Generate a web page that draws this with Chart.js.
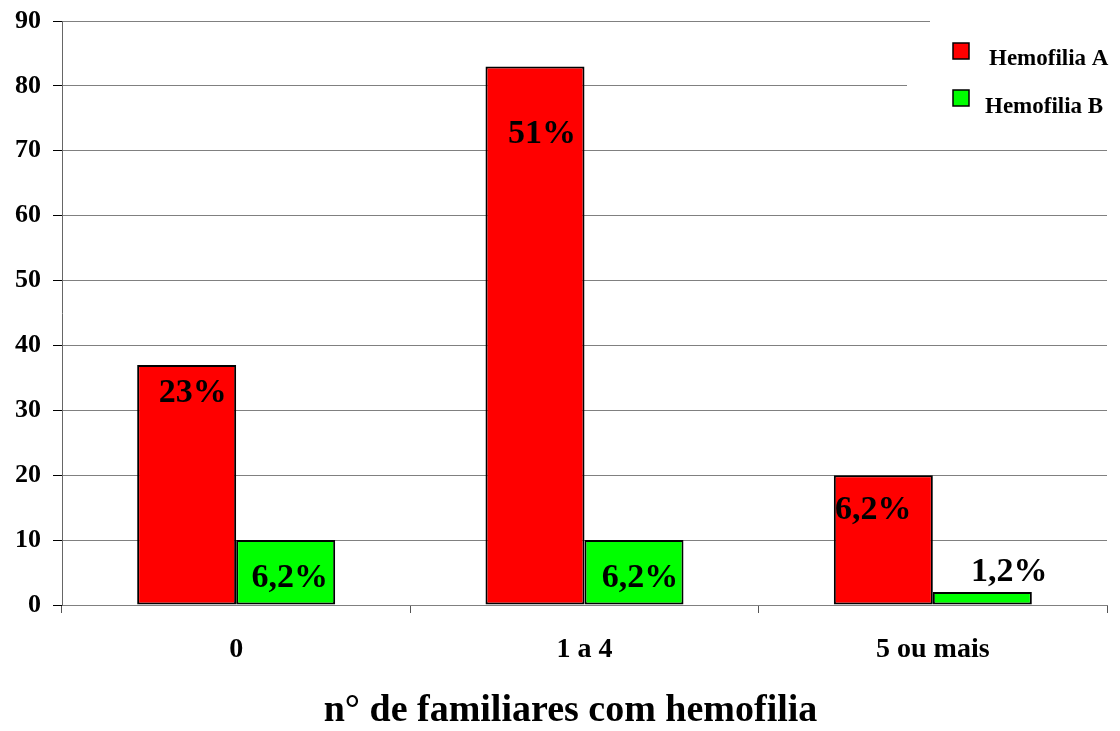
<!DOCTYPE html>
<html>
<head>
<meta charset="utf-8">
<script src="https://cdn.jsdelivr.net/npm/chart.js@4/dist/chart.umd.min.js"></script>
<style>
  html, body { margin: 0; padding: 0; background: #fff; }
  #wrap { position: relative; width: 1120px; height: 731px; }
</style>
</head>
<body>
<div id="wrap"><canvas id="c"></canvas></div>
<script>
// Families with haemophilia, grouped by number of affected relatives
const categories = ['0', '1 a 4', '5 ou mais'];
const hemofiliaA = [37, 83, 20];
const hemofiliaB = [10, 10, 2];
const labelsA = ['23%', '51%', '6,2%'];
const labelsB = ['6,2%', '6,2%', '1,2%'];
const yTicks = [0, 10, 20, 30, 40, 50, 60, 70, 80, 90];
const xTitle = 'n° de familiares com hemofilia';

const SERIF = '"Liberation Serif", "Times New Roman", serif';

// Percentage captions written onto the bars
const barCaptions = {
  id: 'barCaptions',
  afterDatasetsDraw(chart, args, opts) {
    const ctx = chart.ctx;
    ctx.save();
    ctx.font = 'bold ' + opts.size + 'px ' + SERIF;
    ctx.fillStyle = '#000';
    ctx.textAlign = 'center';
    ctx.textBaseline = 'middle';
    chart.data.datasets.forEach((ds, di) => {
      const meta = chart.getDatasetMeta(di);
      meta.data.forEach((bar, i) => {
        const [dx, dy] = opts.offsets[di][i];
        ctx.fillText(ds.captions[i], bar.x + dx, bar.y + dy);
      });
    });
    ctx.restore();
  }
};

// Legend box sitting over the top-right corner of the plot
const cornerLegend = {
  id: 'cornerLegend',
  beforeDatasetsDraw(chart, args, opts) {
    const ctx = chart.ctx;
    const a = chart.chartArea;
    const W = chart.width;
    ctx.save();
    ctx.fillStyle = '#fff';
    ctx.fillRect(a.right - 177, a.top - 10, W - (a.right - 177), 50);
    ctx.fillRect(a.right - 200, a.top + 40, W - (a.right - 200), 80);
    ctx.font = 'bold ' + opts.size + 'px ' + SERIF;
    ctx.textAlign = 'left';
    ctx.textBaseline = 'middle';
    chart.data.datasets.forEach((ds, i) => {
      const it = opts.items[i];
      ctx.fillStyle = ds.backgroundColor;
      ctx.strokeStyle = '#000';
      ctx.lineWidth = 1.5;
      ctx.fillRect(a.right + it.bx, a.top + it.by, 16, 16);
      ctx.strokeRect(a.right + it.bx, a.top + it.by, 16, 16);
      ctx.fillStyle = '#000';
      ctx.fillText(ds.label, a.right + it.tx, a.top + it.ty);
    });
    ctx.restore();
  }
};

// Axis caption under the category labels
const axisCaption = {
  id: 'axisCaption',
  afterDraw(chart, args, opts) {
    const ctx = chart.ctx;
    const a = chart.chartArea;
    ctx.save();
    ctx.font = 'bold ' + opts.size + 'px ' + SERIF;
    ctx.fillStyle = '#000';
    ctx.textAlign = 'center';
    ctx.textBaseline = 'alphabetic';
    ctx.fillText(opts.text, (a.left + a.right) / 2 + opts.dx, a.bottom + opts.dy);
    ctx.restore();
  }
};

new Chart(document.getElementById('c'), {
  type: 'bar',
  data: {
    labels: categories,
    datasets: [
      {
        label: 'Hemofilia A',
        data: hemofiliaA,
        captions: labelsA,
        backgroundColor: '#ff0000',
        borderColor: '#000',
        borderWidth: 2,
        borderSkipped: false
      },
      {
        label: 'Hemofilia B',
        data: hemofiliaB,
        captions: labelsB,
        backgroundColor: '#00ff00',
        borderColor: '#000',
        borderWidth: 2,
        borderSkipped: false
      }
    ]
  },
  options: {
    responsive: true,
    maintainAspectRatio: false,
    animation: false,
    devicePixelRatio: 1,
    layout: { padding: { top: 21, right: 13, bottom: 0, left: 0 } },
    datasets: { bar: { categoryPercentage: 0.5685, barPercentage: 1.0 } },
    plugins: {
      legend: { display: false },
      tooltip: { enabled: false },
      barCaptions: {
        size: 34,
        offsets: [
          [[6, 28], [7, 68], [-10, 35]],
          [[4, 38], [6, 38], [27, -20]]
        ]
      },
      cornerLegend: {
        size: 23,
        items: [
          { bx: -154, by: 22, tx: -118, ty: 38 },
          { bx: -154, by: 69, tx: -122, ty: 86 }
        ]
      },
      axisCaption: { text: xTitle, size: 38, dx: -14, dy: 116 }
    },
    scales: {
      x: {
        afterFit(scale) { scale.height = 126; scale.paddingLeft = 0; scale.paddingRight = 0; },
        grid: {
          offset: true,
          drawOnChartArea: false,
          drawTicks: true,
          tickLength: 8,
          tickColor: '#555',
          lineWidth: 1
        },
        border: { display: true, color: '#808080', width: 1 },
        ticks: {
          color: '#000',
          padding: 20,
          font: { family: SERIF, size: 28, weight: 'bold' }
        }
      },
      y: {
        min: 0,
        max: 90,
        afterFit(scale) { scale.width = 62; scale.paddingTop = 0; scale.paddingBottom = 0; },
        afterBuildTicks(scale) { scale.ticks = yTicks.map(v => ({ value: v })); },
        grid: {
          color: '#808080',
          lineWidth: 1,
          drawTicks: true,
          tickLength: 9,
          tickColor: '#000'
        },
        border: { display: true, color: '#666', width: 1 },
        ticks: {
          color: '#000',
          padding: 12,
          font: { family: SERIF, size: 26, weight: 'bold' }
        }
      }
    }
  },
  plugins: [barCaptions, cornerLegend, axisCaption]
});
</script>
</body>
</html>
